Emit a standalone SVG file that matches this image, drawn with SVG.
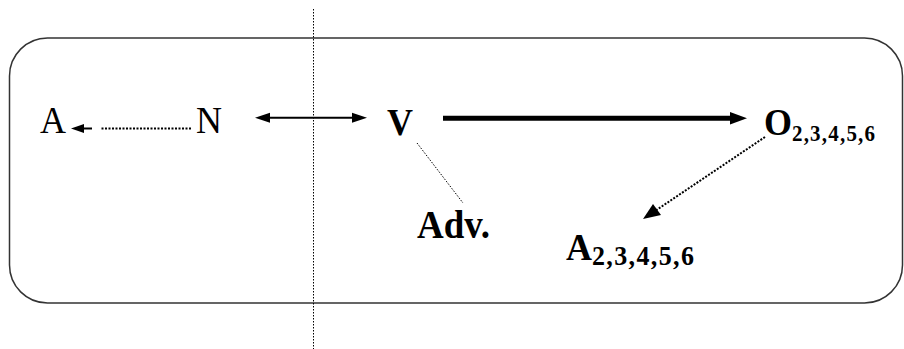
<svg xmlns="http://www.w3.org/2000/svg" width="904" height="349" viewBox="0 0 904 349">
<style>
.t{font-family:"Liberation Serif","Times New Roman",serif;fill:#000}
.b{font-weight:bold}
.dot1{stroke:#000;stroke-width:1;stroke-dasharray:1.5 1.5;fill:none}
.dot2{stroke:#000;stroke-width:2;stroke-dasharray:2 1.5;fill:none}
.solid{stroke:#000;fill:none}
.head{fill:#000;stroke:none}
</style>
<rect x="9.5" y="38" width="893" height="265" rx="38" ry="38" fill="none" stroke="#333" stroke-width="1.5"/>
<line x1="313.5" y1="9" x2="313.5" y2="349" class="dot1"/>
<g id="nodes">
<g id="node-A" transform="translate(40,133) scale(1,1.08)"><text class="t" x="0" y="0" font-size="36">A</text></g>
<g id="node-N" transform="translate(196,133) scale(1,1.08)"><text class="t" x="0" y="0" font-size="36">N</text></g>
<g id="node-V" transform="translate(387,135) scale(1,1.08)"><text class="t b" x="0" y="0" font-size="36">V</text></g>
<g id="node-O" transform="translate(764,135) scale(1,1.08)"><text class="t b" x="0" y="0" font-size="36">O<tspan font-size="21" dy="6" textLength="83" lengthAdjust="spacing">2,3,4,5,6</tspan></text></g>
<g id="node-Adv" transform="translate(417,238) scale(1,1.08)"><text class="t b" x="0" y="0" font-size="37">Adv.</text></g>
<g id="node-A2" transform="translate(566,260) scale(1,1.08)"><text class="t b" x="0" y="0" font-size="36">A<tspan font-size="26" dy="5" textLength="102" lengthAdjust="spacing">2,3,4,5,6</tspan></text></g>
</g>
<g id="connectors">
<line x1="191" y1="128.5" x2="100" y2="128.5" class="dot2"/>
<line x1="92" y1="128.5" x2="83" y2="128.5" class="solid" stroke-width="2"/>
<polygon class="head" points="71,128.5 84,124 84,133"/>
<line x1="268" y1="117.7" x2="354" y2="117.7" class="solid" stroke-width="2"/>
<polygon class="head" points="255,117.7 270,112.7 270,122.7"/>
<polygon class="head" points="367,117.7 352,112.7 352,122.7"/>
<line x1="443" y1="118.3" x2="732" y2="118.3" class="solid" stroke-width="5"/>
<polygon class="head" points="747,118.3 730,112 730,124.6"/>
<line x1="417" y1="143" x2="463" y2="203" class="dot1"/>
<line x1="765" y1="137" x2="655" y2="211" class="dot2"/>
<polygon class="head" points="643,219 653,204 661,215"/>
</g>
</svg>
